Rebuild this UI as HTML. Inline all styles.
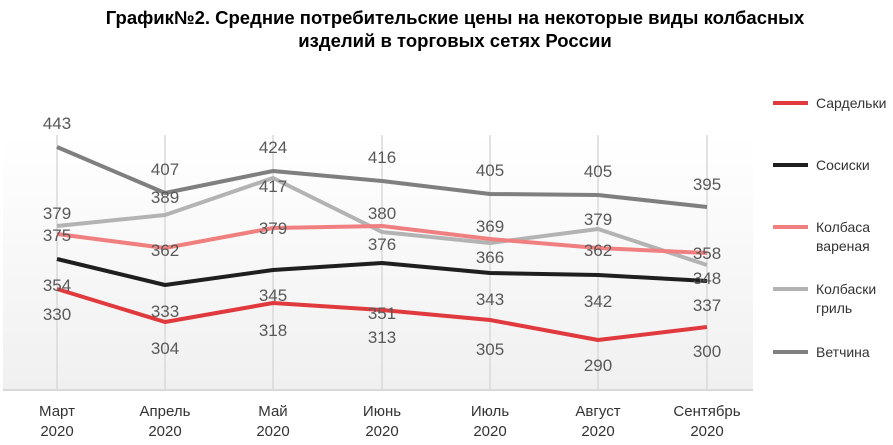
<!DOCTYPE html><html><head><meta charset="utf-8"><style>body{margin:0;background:#fff;font-family:"Liberation Sans",sans-serif}</style></head><body>
<svg width="893" height="440" xmlns="http://www.w3.org/2000/svg" font-family="Liberation Sans, sans-serif">
<defs><linearGradient id="g" x1="0" y1="0" x2="0" y2="1"><stop offset="0" stop-color="#fff"/><stop offset="1" stop-color="#f0f0f0"/></linearGradient></defs>
<text x="455" y="24" text-anchor="middle" font-size="18.5" font-weight="bold" fill="#000">График№2. Средние потребительские цены на некоторые виды колбасных</text>
<text x="455" y="47" text-anchor="middle" font-size="18.5" font-weight="bold" fill="#000">изделий в торговых сетях России</text>
<rect x="3" y="135" width="750" height="255" fill="url(#g)"/>
<g stroke="#d9d9d9" stroke-width="1.5">
<line x1="57" y1="135" x2="57" y2="390"/><line x1="165" y1="135" x2="165" y2="390"/><line x1="273" y1="135" x2="273" y2="390"/><line x1="382" y1="135" x2="382" y2="390"/><line x1="490" y1="135" x2="490" y2="390"/><line x1="598" y1="135" x2="598" y2="390"/><line x1="707" y1="135" x2="707" y2="390"/>
<line x1="3" y1="390" x2="753" y2="390" stroke-width="2"/></g>
<g fill="none" stroke-width="4" stroke-linejoin="round">
<polyline stroke="#7f7f7f" points="57,147 165,193 273,171 382,181 490,194 598,195 707,207"/>
<polyline stroke="#b3b3b3" points="57,226 165,215 273,178 382,232 490,243 598,229 707,265"/>
<polyline stroke="#f08080" points="57,234 165,248 273,228 382,226 490,239 598,248 707,253"/>
<polyline stroke="#1f1f1f" points="57,259 165,285 273,270 382,263 490,273 598,275 707,281"/>
<polyline stroke="#e03a3e" points="57,289 165,322 273,303 382,310 490,320 598,340 707,327"/>
</g>
<g font-size="17" fill="#595959" text-anchor="middle">
<text x="57" y="129">443</text><text x="165" y="175">407</text><text x="273" y="153">424</text><text x="382" y="163">416</text><text x="490" y="176">405</text><text x="598" y="177">405</text><text x="707" y="190">395</text>
<text x="57" y="219">379</text><text x="165" y="203">389</text><text x="273" y="192">417</text><text x="382" y="250">376</text><text x="490" y="263">366</text><text x="598" y="225">379</text><text x="707" y="284">348</text>
<text x="57" y="241">375</text><text x="165" y="256">362</text><text x="273" y="234">379</text><text x="382" y="219">380</text><text x="490" y="232">369</text><text x="598" y="256">362</text><text x="707" y="259">358</text>
<text x="57" y="291">354</text><text x="165" y="317">333</text><text x="273" y="301">345</text><text x="382" y="319">351</text><text x="490" y="305">343</text><text x="598" y="307">342</text><text x="707" y="311">337</text>
<text x="57" y="320">330</text><text x="165" y="354">304</text><text x="273" y="336">318</text><text x="382" y="343">313</text><text x="490" y="355">305</text><text x="598" y="371">290</text><text x="707" y="357">300</text>
</g>
<g font-size="15" fill="#333" text-anchor="middle">
<text x="57" y="416">Март</text><text x="57" y="436">2020</text>
<text x="165" y="416">Апрель</text><text x="165" y="436">2020</text>
<text x="273" y="416">Май</text><text x="273" y="436">2020</text>
<text x="382" y="416">Июнь</text><text x="382" y="436">2020</text>
<text x="490" y="416">Июль</text><text x="490" y="436">2020</text>
<text x="598" y="416">Август</text><text x="598" y="436">2020</text>
<text x="707" y="416">Сентябрь</text><text x="707" y="436">2020</text>
</g>
<g stroke-width="4">
<line x1="773" y1="103" x2="808" y2="103" stroke="#e03a3e"/>
<line x1="773" y1="165" x2="808" y2="165" stroke="#1f1f1f"/>
<line x1="773" y1="227" x2="808" y2="227" stroke="#f08080"/>
<line x1="773" y1="289" x2="808" y2="289" stroke="#b3b3b3"/>
<line x1="773" y1="352" x2="808" y2="352" stroke="#7f7f7f"/>
</g>
<g font-size="14" fill="#333">
<text x="816" y="108">Сардельки</text><text x="816" y="170">Сосиски</text>
<text x="816" y="232">Колбаса</text><text x="816" y="251">вареная</text>
<text x="816" y="294">Колбаски</text><text x="816" y="313">гриль</text>
<text x="816" y="357">Ветчина</text>
</g>
</svg></body></html>
